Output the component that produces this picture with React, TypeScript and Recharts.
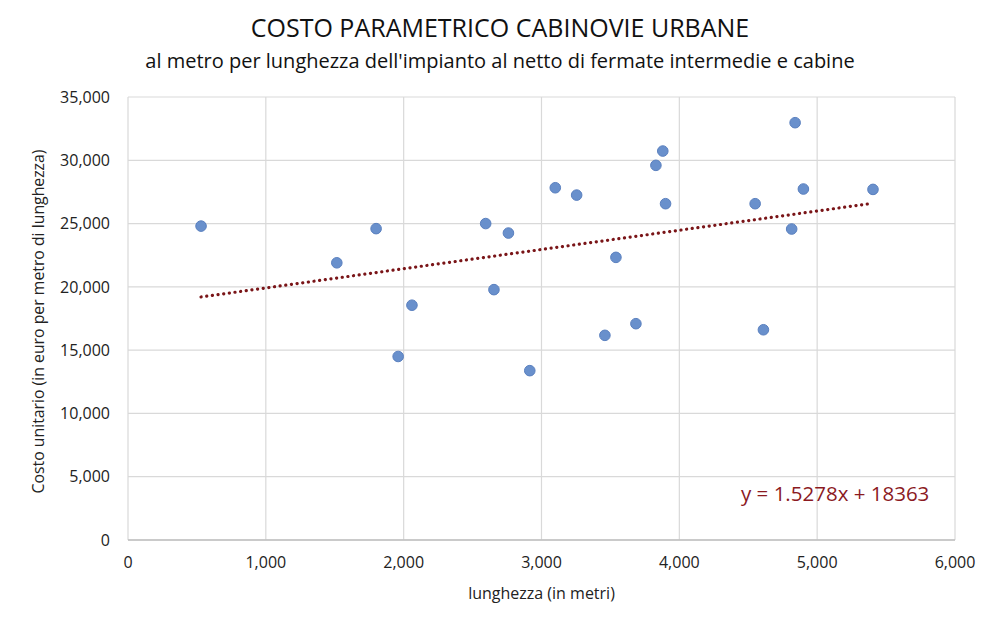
import React from 'react';
import {
  ScatterChart,
  Scatter,
  XAxis,
  YAxis,
  CartesianGrid,
  Label,
} from 'recharts';

// lengths (m) of each urban cable car line
const lengths = [
  530, 1515, 1800, 1960, 2060, 2595, 2655, 2760, 2915, 3100, 3255, 3460,
  3540, 3685, 3830, 3880, 3900, 4550, 4610, 4815, 4840, 4900, 5405,
];

// unit cost (euro per metre)
const costs = [
  24800, 21900, 24600, 14500, 18550, 25000, 19780, 24250, 13380, 27830, 27250, 16170,
  22330, 17090, 29600, 30730, 26570, 26570, 16610, 24570, 32970, 27730, 27700,
];

// linear trendline ends, as drawn
const trendX = [530, 5400];
const trendY = [19200, 26600];

const xTicks = [0, 1000, 2000, 3000, 4000, 5000, 6000];
const yTicks = [0, 5000, 10000, 15000, 20000, 25000, 30000, 35000];

const title = 'COSTO PARAMETRICO CABINOVIE URBANE';
const subtitle = "al metro per lunghezza dell'impianto al netto di fermate intermedie e cabine";
const xLabel = 'lunghezza (in metri)';
const yLabel = 'Costo unitario (in euro per metro di lunghezza)';
const equation = 'y = 1.5278x + 18363';

const points = lengths.map((x, i) => ({ x, y: costs[i] }));
const trend = trendX.map((x, i) => ({ x, y: trendY[i] }));

const FONT = '"Open Sans", sans-serif';
const fmt = (v: number) => v.toLocaleString('en-US');

const App: React.FC = () => {
  return (
    <div style={{ position: 'absolute', left: 0, top: 0, width: 1000, height: 627, background: '#fff', fontFamily: FONT }}>
      <div style={{ position: 'absolute', left: 0, width: 1000, top: 9, textAlign: 'center', fontSize: 25, color: '#111', lineHeight: '36px' }}>
        {title}
      </div>
      <div style={{ position: 'absolute', left: 0, width: 1000, top: 46, textAlign: 'center', fontSize: 20, color: '#111', lineHeight: '29px' }}>
        {subtitle}
      </div>
      <ScatterChart width={1000} height={627} margin={{ top: 97, right: 45, bottom: 27, left: 0 }}>
        <CartesianGrid stroke="#d9d9d9" strokeWidth={1.2} />
        <XAxis
          type="number"
          dataKey="x"
          domain={[0, 6000]}
          ticks={xTicks}
          tickFormatter={fmt}
          height={60}
          tickLine={false}
          tickSize={0}
          tickMargin={17}
          axisLine={{ stroke: '#bfbfbf', strokeWidth: 1.5 }}
          tick={{ fill: '#222', fontSize: 16, fontFamily: FONT }}
        >
          <Label
            content={({ viewBox }: any) => (
              <text
                x={viewBox.x + viewBox.width / 2}
                y={599}
                textAnchor="middle"
                fontSize={16}
                fontFamily={FONT}
                fill="#222"
              >
                {xLabel}
              </text>
            )}
          />
        </XAxis>
        <YAxis
          type="number"
          dataKey="y"
          domain={[0, 35000]}
          ticks={yTicks}
          tickFormatter={fmt}
          width={128}
          tickLine={false}
          tickSize={0}
          tickMargin={18}
          axisLine={false}
          tick={{ fill: '#222', fontSize: 16, fontFamily: FONT }}
        >
          <Label
            content={({ viewBox }: any) => {
              const cx = 44;
              const cy = viewBox.y + viewBox.height / 2 + 3;
              return (
                <text
                  x={cx}
                  y={cy}
                  transform={`rotate(-90 ${cx} ${cy})`}
                  textAnchor="middle"
                  fontSize={15.8}
                  fontFamily={FONT}
                  fill="#222"
                >
                  {yLabel}
                </text>
              );
            }}
          />
        </YAxis>
        <Scatter
          data={trend}
          isAnimationActive={false}
          line={{ stroke: '#7a1518', strokeWidth: 3.2, strokeDasharray: '0.1 5.6', strokeLinecap: 'round' } as any}
          shape={() => <g />}
        />
        <Scatter
          data={points}
          isAnimationActive={false}
          shape={(p: any) => (
            <circle cx={p.cx} cy={p.cy} r={5.3} fill="#6990cc" stroke="#5a80bf" strokeWidth={1} />
          )}
        />
      </ScatterChart>
      <div style={{ position: 'absolute', left: 741, top: 478, fontSize: 20.5, color: '#8b1a1f', lineHeight: '30px', whiteSpace: 'nowrap' }}>
        {equation}
      </div>
    </div>
  );
};

export default App;
